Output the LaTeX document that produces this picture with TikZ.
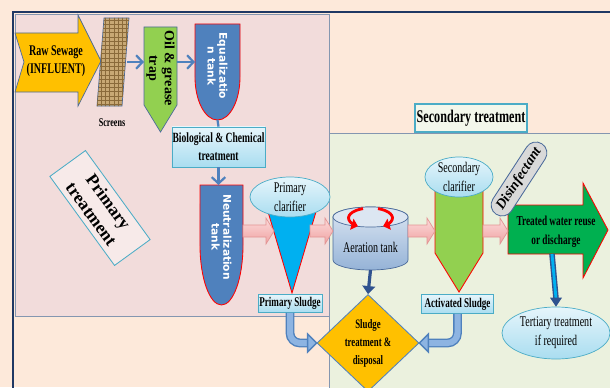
\documentclass[tikz,border=0pt]{standalone}
\usepackage{fontspec}
\setmainfont{Liberation Serif}
\newfontfamily\condfont{Liberation Serif}[FakeStretch=0.68]
\newfontfamily\tankfont{DejaVu Sans}
\usetikzlibrary{arrows.meta,calc,shapes.geometric,patterns}

\definecolor{peach}{HTML}{FDE9DA}
\definecolor{pinkbg}{HTML}{F2DCDB}
\definecolor{greenbg}{HTML}{EBF1DE}
\definecolor{frame}{HTML}{1F3864}
\definecolor{regline}{HTML}{8496B0}
\definecolor{gold}{HTML}{FFC000}
\definecolor{leaf}{HTML}{92D050}
\definecolor{tankblue}{HTML}{4F81BD}
\definecolor{tankdark}{HTML}{2F528F}
\definecolor{skyedge}{HTML}{4BACC6}
\definecolor{skytop}{HTML}{E6F5FB}
\definecolor{skybot}{HTML}{A9DDF0}
\definecolor{clarblue}{HTML}{00B0F0}
\definecolor{pinktop}{HTML}{FCDADA}
\definecolor{pinkbot}{HTML}{EFA3A3}
\definecolor{pinkedge}{HTML}{E39494}
\definecolor{grass}{HTML}{00B050}
\definecolor{aertop}{HTML}{DCE6F2}
\definecolor{aerbot}{HTML}{95B3D7}
\definecolor{sludgefill}{HTML}{8DB4E2}
\definecolor{burlap}{HTML}{C8A874}
\definecolor{burlapline}{HTML}{8A6A3A}
\definecolor{capsule}{HTML}{D9D9D9}
\definecolor{capedge}{HTML}{4A6A9A}

\begin{document}
\begin{tikzpicture}[
  x=0.025cm, y=-0.025cm,
  lbl/.style={font=\condfont\bfseries\fontsize{9.5}{12}\selectfont, align=center, inner sep=0.5pt},
  ltxt/.style={font=\condfont\fontsize{10.5}{13.5}\selectfont, align=center},
  skybox/.style={draw=skyedge, top color=skytop, bottom color=skybot, line width=0.5pt},
  skyell/.style={ellipse, draw=skyedge, top color=skytop, bottom color=skybot,
    line width=0.5pt, inner sep=-3mm, ltxt},
  tank/.style={fill=tankblue, draw=red, line width=0.6pt},
  tanktxt/.style={font=\tankfont\bfseries\fontsize{7.6}{8.4}\selectfont, text=white,
    align=center, rotate=-90, inner sep=0pt},
  pinkflow/.style={draw=pinkedge, top color=pinktop, bottom color=pinkbot, line width=0.5pt},
  thinflow/.style={draw=tankblue, line width=0.55mm, -{Straight Barb[length=1.6mm,width=3.4mm]}},
  sludgeflow/.style={draw=tankblue, double=sludgefill, double distance=1.5mm,
    line width=0.35mm, rounded corners=2.5mm},
  sludgehead/.style={fill=sludgefill, draw=tankblue, line width=0.35mm}
]
\useasboundingbox (0,0) rectangle (610,387);

% backgrounds
\fill[peach] (0,0) rectangle (610,387);
\filldraw[fill=pinkbg, draw=regline, line width=0.6pt] (15,14) rectangle (329,316);
\filldraw[fill=greenbg, draw=regline, line width=0.6pt] (329,133) rectangle (615,392);
\draw[frame, line width=1.5pt] (13,392) -- (13,12) -- (615,12);

% primary treatment
\filldraw[fill=gold, draw=capedge, line width=0.5pt]
  (15,33) -- (78,33) -- (78,15) -- (101,61) -- (78,106) -- (78,92) -- (15,92) -- (24,62) -- cycle;
\node[lbl, font=\condfont\bfseries\fontsize{10.5}{12.8}\selectfont] (sewage) at (56,61)
  {Raw Sewage\\(INFLUENT)};

\filldraw[fill=burlap, draw=capedge, line width=0.5pt] (104,18) -- (129,18) -- (122,106) -- (97,106) -- cycle;
\fill[pattern=grid, pattern color=burlapline] (104,18) -- (129,18) -- (122,106) -- (97,106) -- cycle;
\node[lbl, font=\condfont\bfseries\fontsize{8.5}{10}\selectfont] (screens) at (112,123) {Screens};
\coordinate (scrE) at (127,62);

\filldraw[fill=leaf, draw=capedge, line width=0.5pt]
  (144,27) -- (177,27) -- (177,105) -- (160.5,132) -- (144,105) -- cycle;
\node[rotate=-90, font=\bfseries\fontsize{10}{11}\selectfont, align=center, inner sep=0pt] (trap)
  at (160.5,68) {Oil \& grease\\trap};
\coordinate (trapW) at (144,62);
\coordinate (trapE) at (177,62);

\path[tank] (195,24) -- (240,24) -- (240,77)
  arc[start angle=0, end angle=-180, x radius=0.5625cm, y radius=1.075cm] -- cycle;
\node[tanktxt] (eq) at (217.5,66) {Equalizatio\\n tank};
\coordinate (eqW) at (195,62);
\coordinate (eqS) at (217.5,120);

\node[skybox, lbl, font=\condfont\bfseries\fontsize{10}{13}\selectfont,
  minimum width=23.25mm, minimum height=10mm] (bio) at (218.5,147) {Biological \& Chemical\\treatment};

\path[tank] (200,185) -- (243,185) -- (243,245)
  arc[start angle=0, end angle=-180, x radius=0.5375cm, y radius=1.5cm] -- cycle;
\node[tanktxt] (neut) at (221.5,237) {Neutralization\\tank};
\coordinate (neutN) at (221.5,185);
\coordinate (neutE) at (243,231);

\filldraw[fill=clarblue, draw=red, line width=0.6pt] (266,205) -- (318,205) -- (292,293) -- cycle;
\node[skyell, minimum width=20mm, minimum height=10mm] (pcl) at (290,197) {Primary\\clarifier};
\coordinate (pclW) at (274,231);
\coordinate (pclE) at (310,231);
\node[skybox, lbl, minimum width=16mm, minimum height=4.5mm] (psl) at (290,303.5) {Primary Sludge};

\node[draw=skyedge, fill=white!40!pinkbg, line width=0.6pt, minimum width=27.5mm, minimum height=11mm,
  rotate=-54, font=\bfseries\fontsize{12.5}{15}\selectfont, align=center, inner sep=0pt] (ptitle)
  at (100,208) {Primary\\treatment};

% secondary treatment
\node[draw=skyedge, fill=white!40!greenbg, line width=0.8pt, minimum width=28mm, minimum height=7mm,
  font=\condfont\bfseries\fontsize{12.7}{14}\selectfont, inner sep=0pt] (stitle) at (471,118)
  {Secondary treatment};

\path[draw=capedge, line width=0.5pt, top color=aertop, bottom color=aerbot]
  (333,217) -- (333,260) arc[start angle=180, end angle=360, x radius=0.9375cm, y radius=0.25cm]
  -- (408,217) arc[start angle=0, end angle=180, x radius=0.9375cm, y radius=0.25cm] -- cycle;
\filldraw[fill=aertop, draw=capedge, line width=0.5pt] (370.5,217) ellipse[x radius=0.9375cm, y radius=0.25cm];
\draw[red, line width=0.7mm, -{Triangle[length=1.6mm,width=2.8mm]}]
  (363,208.6) arc[start angle=110, end angle=235, x radius=0.55cm, y radius=0.25cm];
\draw[red, line width=0.7mm, -{Triangle[length=1.6mm,width=2.8mm]}]
  (378,208.6) arc[start angle=70, end angle=-55, x radius=0.55cm, y radius=0.25cm];
\node[ltxt] (aer) at (370.5,247) {Aeration tank};
\coordinate (aerW) at (333,231);
\coordinate (aerE) at (408,231);
\coordinate (aerS) at (370.5,270);

\node[diamond, draw=tankblue, fill=gold, line width=0.6pt, minimum width=25.5mm, minimum height=24mm,
  inner sep=-2mm, lbl, font=\condfont\bfseries\fontsize{9.2}{12.8}\selectfont] (sludge) at (368,343)
  {Sludge\\treatment \&\\disposal};

\filldraw[fill=leaf, draw=red, line width=0.6pt]
  (435,185) -- (483,185) -- (483,253) -- (459,292) -- (435,253) -- cycle;
\node[skyell, minimum width=17mm, minimum height=10mm] (scl) at (459,177) {Secondary\\clarifier};
\coordinate (sclW) at (435,231);
\coordinate (sclE) at (483,231);
\node[skybox, lbl, minimum width=18mm, minimum height=4.75mm] (asl) at (457.5,304) {Activated Sludge};

\filldraw[fill=grass, draw=red, line width=0.6pt]
  (508,205) -- (583,205) -- (583,183) -- (608,230) -- (583,278) -- (583,254) -- (508,254) -- cycle;
\node[lbl, font=\condfont\bfseries\fontsize{9.7}{13.5}\selectfont] (trt) at (556,232)
  {Treated water reuse\\or discharge};
\coordinate (trtW) at (508,231);
\coordinate (trtS) at (552,254);

\node[draw=capedge, line width=0.6pt, fill=capsule, rounded corners=2.75mm, minimum width=21mm,
  minimum height=5.5mm, rotate=57, font=\bfseries\itshape\fontsize{10}{10}\selectfont, inner sep=0pt]
  (disinf) at (519,179) {Disinfectant};

\node[skyell, minimum width=27mm, minimum height=13mm] (tert) at (556,333) {Tertiary treatment\\if required};

% connectors
\draw[thinflow] (scrE) -- (trapW);
\draw[thinflow] (trapE) -- (eqW);
\draw[draw=tankblue, line width=0.55mm] (eqS) -- (bio.north);
\draw[thinflow] (bio.south) -- (bio.south |- neutN);

\foreach \a/\b in {neutE/pclW, pclE/aerW, aerE/sclW, sclE/trtW}
  \path[pinkflow] ($(\a)+(0,-6)$) -- ($(\b)+(-8,-6)$) -- ($(\b)+(-8,-13)$) -- (\b)
    -- ($(\b)+(-8,13)$) -- ($(\b)+(-8,6)$) -- ($(\a)+(0,6)$) -- cycle;

\draw[draw=tankdark, line width=0.8mm, -{Triangle[length=2mm,width=3.2mm]}] (aerS) -- (sludge.north);

\draw[sludgeflow] (psl.south) |- ($(sludge.west)+(-8,0)$);
\filldraw[sludgehead] ($(sludge.west)+(-9,-9)$) -- (sludge.west) -- ($(sludge.west)+(-9,9)$) -- cycle;
\draw[sludgeflow] (asl.south) |- ($(sludge.east)+(8,0)$);
\filldraw[sludgehead] ($(sludge.east)+(9,-9)$) -- (sludge.east) -- ($(sludge.east)+(9,9)$) -- cycle;

\draw[draw=tankdark, double=clarblue, double distance=0.7mm, line width=0.35mm] (trtS) -- ($(tert.north)+(0,-8)$);
\fill[tankdark] ($(tert.north)+(-6,-9)$) -- (tert.north) -- ($(tert.north)+(6,-9)$) -- cycle;
\end{tikzpicture}
\end{document}
